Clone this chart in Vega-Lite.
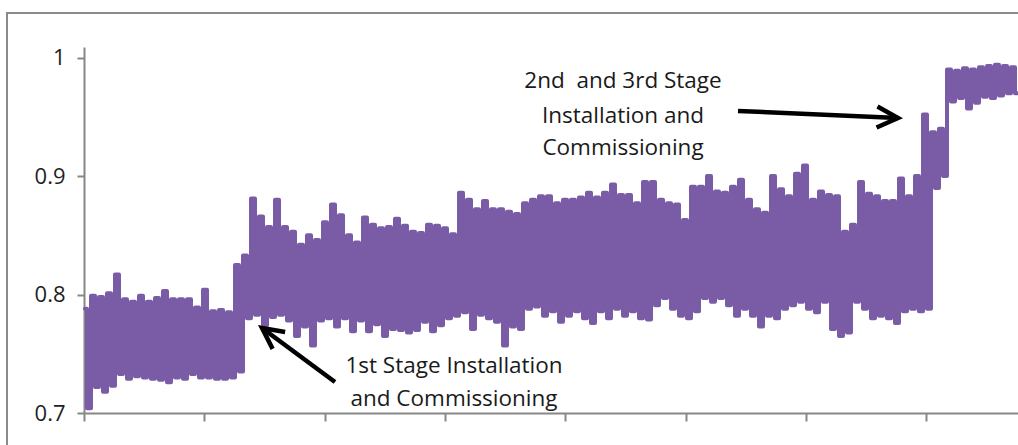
{
  "$schema": "https://vega.github.io/schema/vega-lite/v6.json",
  "width": 934,
  "height": 366,
  "autosize": {"type": "none"},
  "padding": {"left": 84, "top": 47, "right": 0, "bottom": 32},
  "background": "white",
  "config": {"view": {"stroke": null}, "axis": {"grid": false}},
  "datasets": {
    "series": [
      {"t":1,"v":0.788},{"t":5,"v":0.704},{"t":9,"v":0.799},{"t":13,"v":0.722},{"t":17,"v":0.798},{"t":21,"v":0.718},{"t":25,"v":0.801},{"t":29,"v":0.723},{"t":33,"v":0.817},{"t":37,"v":0.733},
      {"t":41,"v":0.796},{"t":45,"v":0.729},{"t":49,"v":0.794},{"t":53,"v":0.731},{"t":57,"v":0.799},{"t":61,"v":0.730},{"t":65,"v":0.794},{"t":69,"v":0.729},{"t":73,"v":0.797},{"t":77,"v":0.728},
      {"t":81,"v":0.803},{"t":85,"v":0.726},{"t":89,"v":0.796},{"t":93,"v":0.730},{"t":97,"v":0.796},{"t":101,"v":0.729},{"t":105,"v":0.796},{"t":109,"v":0.733},{"t":113,"v":0.789},{"t":117,"v":0.730},
      {"t":121,"v":0.804},{"t":125,"v":0.730},{"t":129,"v":0.786},{"t":133,"v":0.729},{"t":137,"v":0.787},{"t":141,"v":0.729},{"t":145,"v":0.785},{"t":149,"v":0.730},{"t":153,"v":0.825},{"t":157,"v":0.735},
      {"t":161,"v":0.833},{"t":165,"v":0.780},{"t":169,"v":0.881},{"t":173,"v":0.783},{"t":177,"v":0.866},{"t":181,"v":0.774},{"t":185,"v":0.857},{"t":189,"v":0.781},{"t":193,"v":0.880},{"t":197,"v":0.783},
      {"t":201,"v":0.857},{"t":205,"v":0.778},{"t":209,"v":0.853},{"t":213,"v":0.765},{"t":217,"v":0.842},{"t":221,"v":0.773},{"t":225,"v":0.850},{"t":229,"v":0.757},{"t":233,"v":0.846},{"t":237,"v":0.778},
      {"t":241,"v":0.861},{"t":245,"v":0.780},{"t":249,"v":0.876},{"t":253,"v":0.773},{"t":257,"v":0.867},{"t":261,"v":0.780},{"t":265,"v":0.850},{"t":269,"v":0.769},{"t":273,"v":0.844},{"t":277,"v":0.778},
      {"t":281,"v":0.865},{"t":285,"v":0.769},{"t":289,"v":0.859},{"t":293,"v":0.775},{"t":297,"v":0.856},{"t":301,"v":0.765},{"t":305,"v":0.857},{"t":309,"v":0.771},{"t":313,"v":0.864},{"t":317,"v":0.770},
      {"t":321,"v":0.858},{"t":325,"v":0.768},{"t":329,"v":0.853},{"t":333,"v":0.770},{"t":337,"v":0.852},{"t":341,"v":0.777},{"t":345,"v":0.859},{"t":349,"v":0.769},{"t":353,"v":0.858},{"t":357,"v":0.774},
      {"t":361,"v":0.856},{"t":365,"v":0.780},{"t":369,"v":0.851},{"t":373,"v":0.782},{"t":377,"v":0.886},{"t":381,"v":0.785},{"t":385,"v":0.880},{"t":389,"v":0.771},{"t":393,"v":0.872},{"t":397,"v":0.783},
      {"t":401,"v":0.879},{"t":405,"v":0.780},{"t":409,"v":0.872},{"t":413,"v":0.777},{"t":417,"v":0.872},{"t":421,"v":0.757},{"t":425,"v":0.870},{"t":429,"v":0.773},{"t":433,"v":0.868},{"t":437,"v":0.771},
      {"t":441,"v":0.877},{"t":445,"v":0.788},{"t":449,"v":0.880},{"t":453,"v":0.790},{"t":457,"v":0.883},{"t":461,"v":0.782},{"t":465,"v":0.883},{"t":469,"v":0.786},{"t":473,"v":0.877},{"t":477,"v":0.777},
      {"t":481,"v":0.880},{"t":485,"v":0.782},{"t":489,"v":0.880},{"t":493,"v":0.786},{"t":497,"v":0.882},{"t":501,"v":0.780},{"t":505,"v":0.886},{"t":509,"v":0.776},{"t":513,"v":0.882},{"t":517,"v":0.786},
      {"t":521,"v":0.886},{"t":525,"v":0.780},{"t":529,"v":0.893},{"t":533,"v":0.788},{"t":537,"v":0.884},{"t":541,"v":0.782},{"t":545,"v":0.884},{"t":549,"v":0.786},{"t":553,"v":0.877},{"t":557,"v":0.780},
      {"t":561,"v":0.895},{"t":565,"v":0.779},{"t":569,"v":0.895},{"t":573,"v":0.791},{"t":577,"v":0.880},{"t":581,"v":0.797},{"t":585,"v":0.877},{"t":589,"v":0.788},{"t":593,"v":0.876},{"t":597,"v":0.782},
      {"t":601,"v":0.863},{"t":605,"v":0.780},{"t":609,"v":0.891},{"t":613,"v":0.786},{"t":617,"v":0.891},{"t":621,"v":0.797},{"t":625,"v":0.900},{"t":629,"v":0.794},{"t":633,"v":0.887},{"t":637,"v":0.797},
      {"t":641,"v":0.886},{"t":645,"v":0.791},{"t":649,"v":0.891},{"t":653,"v":0.782},{"t":657,"v":0.897},{"t":661,"v":0.788},{"t":665,"v":0.880},{"t":669,"v":0.782},{"t":673,"v":0.872},{"t":677,"v":0.773},
      {"t":681,"v":0.869},{"t":685,"v":0.782},{"t":689,"v":0.900},{"t":693,"v":0.780},{"t":697,"v":0.889},{"t":701,"v":0.788},{"t":705,"v":0.883},{"t":709,"v":0.791},{"t":713,"v":0.902},{"t":717,"v":0.794},
      {"t":721,"v":0.909},{"t":725,"v":0.788},{"t":729,"v":0.880},{"t":733,"v":0.785},{"t":737,"v":0.887},{"t":741,"v":0.794},{"t":745,"v":0.884},{"t":749,"v":0.771},{"t":753,"v":0.883},{"t":757,"v":0.765},
      {"t":761,"v":0.853},{"t":765,"v":0.768},{"t":769,"v":0.859},{"t":773,"v":0.794},{"t":777,"v":0.895},{"t":781,"v":0.788},{"t":785,"v":0.885},{"t":789,"v":0.780},{"t":793,"v":0.883},{"t":797,"v":0.782},
      {"t":801,"v":0.879},{"t":805,"v":0.780},{"t":809,"v":0.879},{"t":813,"v":0.776},{"t":817,"v":0.898},{"t":821,"v":0.786},{"t":825,"v":0.883},{"t":829,"v":0.788},{"t":833,"v":0.900},{"t":837,"v":0.786},
      {"t":841,"v":0.952},{"t":845,"v":0.788},{"t":849,"v":0.937},{"t":853,"v":0.890},{"t":857,"v":0.940},{"t":861,"v":0.900},{"t":865,"v":0.990},{"t":869,"v":0.963},{"t":873,"v":0.989},{"t":877,"v":0.966},
      {"t":881,"v":0.991},{"t":885,"v":0.957},{"t":889,"v":0.990},{"t":893,"v":0.962},{"t":897,"v":0.992},{"t":901,"v":0.967},{"t":905,"v":0.993},{"t":909,"v":0.966},{"t":913,"v":0.994},{"t":917,"v":0.968},
      {"t":921,"v":0.993},{"t":925,"v":0.970},{"t":929,"v":0.992},{"t":933,"v":0.970}
    ],
    "notes": [
      {"label": "1st Stage Installation", "t": 370, "v": 0.7338},
      {"label": "and Commissioning", "t": 370, "v": 0.7055},
      {"label": "2nd\u00a0 and 3rd Stage", "t": 539, "v": 0.9744},
      {"label": "Installation and", "t": 539, "v": 0.9448},
      {"label": "Commissioning", "t": 539, "v": 0.9174}
    ],
    "arrows": [
      {"id": "a1", "end": "tail", "t": 251, "v": 0.7262},
      {"id": "a1", "end": "tip", "t": 178, "v": 0.7718},
      {"id": "a2", "end": "tail", "t": 654, "v": 0.955},
      {"id": "a2", "end": "tip", "t": 814, "v": 0.9491}
    ]
  },
  "layer": [
    {
      "data": {"values": [{}]},
      "mark": {"type": "rect", "fillOpacity": 0, "stroke": "#8a8a8a", "strokeWidth": 2, "clip": false},
      "encoding": {
        "x": {"datum": -77, "type": "quantitative", "scale": {"domain": [0, 934], "nice": false, "zero": false},
          "axis": {"title": null, "values": [0, 120.3, 240.6, 360.9, 481.2, 601.5, 721.8, 842.1], "labels": false, "grid": false,
            "domainColor": "#878787", "domainWidth": 2, "tickColor": "#878787", "tickWidth": 2, "tickSize": 8}},
        "x2": {"datum": 1010},
        "y": {"datum": 1.0377, "type": "quantitative", "scale": {"domain": [0.7, 1.009], "nice": false, "zero": false},
          "axis": {"title": null, "values": [0.7, 0.8, 0.9, 1], "format": "~g", "grid": false,
            "domainColor": "#878787", "domainWidth": 2, "tickColor": "#878787", "tickWidth": 2, "tickSize": 7,
            "labelFont": "Open Sans", "labelFontSize": 22, "labelColor": "#1e1e1e", "labelPadding": 12}},
        "y2": {"datum": 0.64}
      }
    },
    {
      "data": {"name": "series"},
      "mark": {"type": "line", "color": "#7a5ca6", "strokeWidth": 4, "interpolate": "step", "strokeJoin": "round", "strokeCap": "round"},
      "encoding": {
        "x": {"field": "t", "type": "quantitative", "scale": {"domain": [0, 934], "nice": false, "zero": false},
          "axis": {"title": null, "values": [0, 120.3, 240.6, 360.9, 481.2, 601.5, 721.8, 842.1], "labels": false, "grid": false,
            "domainColor": "#878787", "domainWidth": 2, "tickColor": "#878787", "tickWidth": 2, "tickSize": 8}},
        "y": {"field": "v", "type": "quantitative", "scale": {"domain": [0.7, 1.009], "nice": false, "zero": false},
          "axis": {"title": null, "values": [0.7, 0.8, 0.9, 1], "format": "~g", "grid": false,
            "domainColor": "#878787", "domainWidth": 2, "tickColor": "#878787", "tickWidth": 2, "tickSize": 7,
            "labelFont": "Open Sans", "labelFontSize": 22, "labelColor": "#1e1e1e", "labelPadding": 12}}
      }
    },
    {
      "data": {"name": "notes"},
      "mark": {"type": "text", "font": "Open Sans", "fontSize": 22.5, "align": "center", "baseline": "alphabetic", "color": "#1a1a1a"},
      "encoding": {
        "x": {"field": "t", "type": "quantitative", "scale": {"domain": [0, 934], "nice": false, "zero": false},
          "axis": {"title": null, "values": [0, 120.3, 240.6, 360.9, 481.2, 601.5, 721.8, 842.1], "labels": false, "grid": false,
            "domainColor": "#878787", "domainWidth": 2, "tickColor": "#878787", "tickWidth": 2, "tickSize": 8}},
        "y": {"field": "v", "type": "quantitative", "scale": {"domain": [0.7, 1.009], "nice": false, "zero": false},
          "axis": {"title": null, "values": [0.7, 0.8, 0.9, 1], "format": "~g", "grid": false,
            "domainColor": "#878787", "domainWidth": 2, "tickColor": "#878787", "tickWidth": 2, "tickSize": 7,
            "labelFont": "Open Sans", "labelFontSize": 22, "labelColor": "#1e1e1e", "labelPadding": 12}},
        "text": {"field": "label"}
      }
    },
    {
      "data": {"name": "arrows"},
      "mark": {"type": "line", "color": "#000000", "strokeWidth": 4.5, "strokeCap": "butt"},
      "encoding": {
        "x": {"field": "t", "type": "quantitative", "scale": {"domain": [0, 934], "nice": false, "zero": false},
          "axis": {"title": null, "values": [0, 120.3, 240.6, 360.9, 481.2, 601.5, 721.8, 842.1], "labels": false, "grid": false,
            "domainColor": "#878787", "domainWidth": 2, "tickColor": "#878787", "tickWidth": 2, "tickSize": 8}},
        "y": {"field": "v", "type": "quantitative", "scale": {"domain": [0.7, 1.009], "nice": false, "zero": false},
          "axis": {"title": null, "values": [0.7, 0.8, 0.9, 1], "format": "~g", "grid": false,
            "domainColor": "#878787", "domainWidth": 2, "tickColor": "#878787", "tickWidth": 2, "tickSize": 7,
            "labelFont": "Open Sans", "labelFontSize": 22, "labelColor": "#1e1e1e", "labelPadding": 12}},
        "detail": {"field": "id"}
      }
    },
    {
      "data": {"name": "arrows"},
      "transform": [{"filter": "datum.id == 'a1' && datum.end == 'tip'"}],
      "mark": {"type": "point", "shape": "M -1 -0.5 L 0 0 L -1 0.5", "filled": false, "size": 1764, "strokeWidth": 4.5, "color": "#000000", "opacity": 1, "angle": 216.5, "strokeJoin": "miter"},
      "encoding": {
        "x": {"field": "t", "type": "quantitative", "scale": {"domain": [0, 934], "nice": false, "zero": false},
          "axis": {"title": null, "values": [0, 120.3, 240.6, 360.9, 481.2, 601.5, 721.8, 842.1], "labels": false, "grid": false,
            "domainColor": "#878787", "domainWidth": 2, "tickColor": "#878787", "tickWidth": 2, "tickSize": 8}},
        "y": {"field": "v", "type": "quantitative", "scale": {"domain": [0.7, 1.009], "nice": false, "zero": false},
          "axis": {"title": null, "values": [0.7, 0.8, 0.9, 1], "format": "~g", "grid": false,
            "domainColor": "#878787", "domainWidth": 2, "tickColor": "#878787", "tickWidth": 2, "tickSize": 7,
            "labelFont": "Open Sans", "labelFontSize": 22, "labelColor": "#1e1e1e", "labelPadding": 12}}
      }
    },
    {
      "data": {"name": "arrows"},
      "transform": [{"filter": "datum.id == 'a2' && datum.end == 'tip'"}],
      "mark": {"type": "point", "shape": "M -1 -0.5 L 0 0 L -1 0.5", "filled": false, "size": 1764, "strokeWidth": 4.5, "color": "#000000", "opacity": 1, "angle": 2.5, "strokeJoin": "miter"},
      "encoding": {
        "x": {"field": "t", "type": "quantitative", "scale": {"domain": [0, 934], "nice": false, "zero": false},
          "axis": {"title": null, "values": [0, 120.3, 240.6, 360.9, 481.2, 601.5, 721.8, 842.1], "labels": false, "grid": false,
            "domainColor": "#878787", "domainWidth": 2, "tickColor": "#878787", "tickWidth": 2, "tickSize": 8}},
        "y": {"field": "v", "type": "quantitative", "scale": {"domain": [0.7, 1.009], "nice": false, "zero": false},
          "axis": {"title": null, "values": [0.7, 0.8, 0.9, 1], "format": "~g", "grid": false,
            "domainColor": "#878787", "domainWidth": 2, "tickColor": "#878787", "tickWidth": 2, "tickSize": 7,
            "labelFont": "Open Sans", "labelFontSize": 22, "labelColor": "#1e1e1e", "labelPadding": 12}}
      }
    }
  ]
}
